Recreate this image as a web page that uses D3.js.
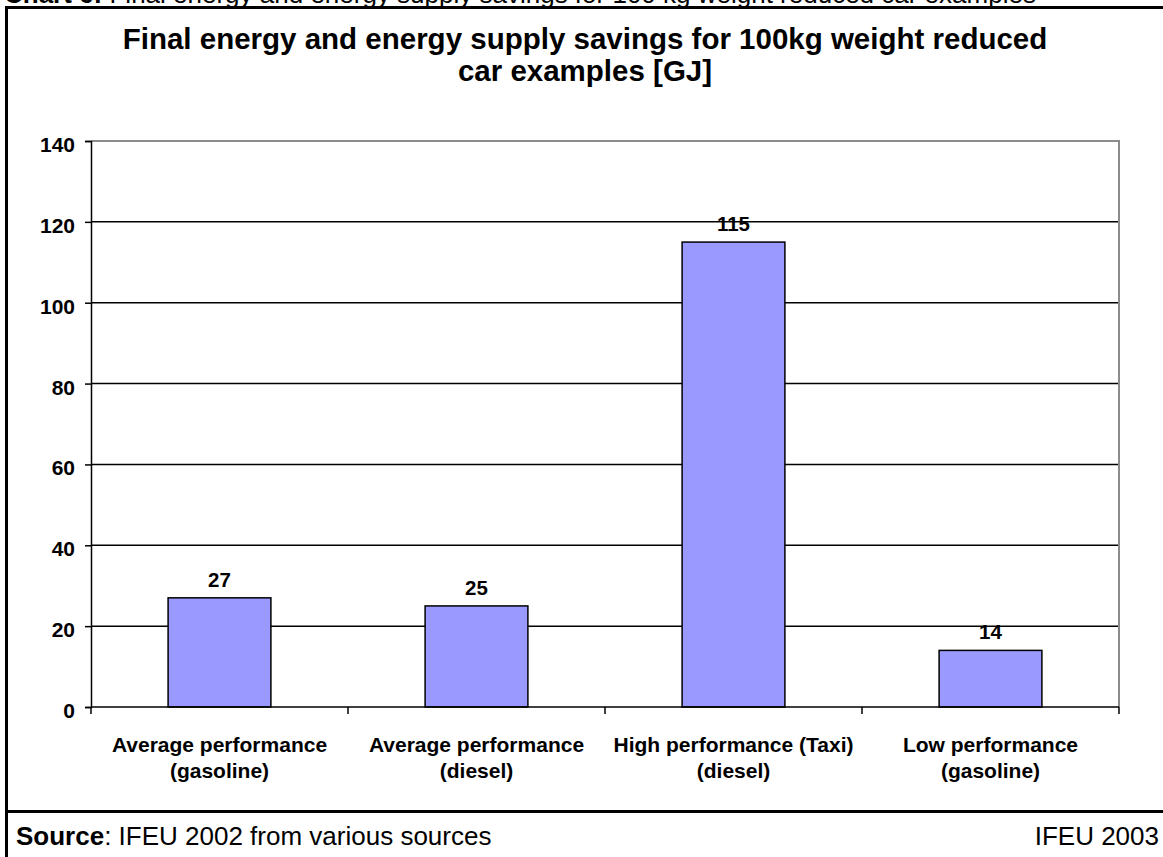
<!DOCTYPE html>
<html>
<head>
<meta charset="utf-8">
<script src="https://cdn.jsdelivr.net/npm/d3@7/dist/d3.min.js"></script>
<style>
  html, body { margin: 0; padding: 0; background: #fff; }
  svg { display: block; font-family: Arial, "Liberation Sans", sans-serif; }
</style>
</head>
<body>
<svg id="chart" width="1163" height="857"></svg>
<script>
// Savings per 100 kg weight reduction, GJ
const categories = [
  ["Average performance", "(gasoline)"],
  ["Average performance", "(diesel)"],
  ["High performance (Taxi)", "(diesel)"],
  ["Low performance", "(gasoline)"]
];
const savings = [27, 25, 115, 14];
const yTicks = [0, 20, 40, 60, 80, 100, 120, 140];

const svg = d3.select("#chart");
const W = 1163, H = 857;
const plot = { left: 91, right: 1119, top: 141, bottom: 707 };
const labelSize = 21;

// Caption above the frame (partly cut by the page top)
const cap = svg.append("text").attr("x", 4).attr("y", 3)
  .attr("font-size", 26).attr("fill", "#000");
cap.append("tspan").attr("font-weight", "bold").text("Chart 6:");
cap.append("tspan").text(" Final energy and energy supply savings for 100 kg weight reduced car examples");

// Outer frame
svg.append("line").attr("x1", 6).attr("x2", W + 5).attr("y1", 7.5).attr("y2", 7.5)
  .attr("stroke", "#000").attr("stroke-width", 3);
svg.append("line").attr("x1", 6.5).attr("x2", 6.5).attr("y1", 6).attr("y2", H)
  .attr("stroke", "#000").attr("stroke-width", 3);
svg.append("line").attr("x1", 6).attr("x2", W + 5).attr("y1", 811.5).attr("y2", 811.5)
  .attr("stroke", "#000").attr("stroke-width", 3);

// Title
const title = svg.append("text").attr("text-anchor", "middle")
  .attr("font-size", 29.5).attr("font-weight", "bold").attr("fill", "#000");
title.append("tspan").attr("x", 585).attr("y", 49)
  .text("Final energy and energy supply savings for 100kg weight reduced");
title.append("tspan").attr("x", 585).attr("y", 81).text("car examples [GJ]");

// Scales
const x = d3.scaleBand().domain(d3.range(categories.length))
  .range([plot.left, plot.right]).padding(0);
const y = d3.scaleLinear().domain([0, 140]).range([plot.bottom, plot.top]);
const barW = x.bandwidth() * 0.4;

// Gridlines
svg.append("g").selectAll("line").data(yTicks.filter(t => t > 0)).join("line")
  .attr("x1", plot.left).attr("x2", plot.right)
  .attr("y1", d => y(d)).attr("y2", d => y(d))
  .attr("stroke", d => d === 140 ? "#8c8c8c" : "#000")
  .attr("stroke-width", d => d === 140 ? 2 : 1.5);

// Right border of plot area
svg.append("line").attr("x1", plot.right).attr("x2", plot.right)
  .attr("y1", plot.top - 1).attr("y2", plot.bottom)
  .attr("stroke", "#8c8c8c").attr("stroke-width", 2);

// Bars
svg.append("g").selectAll("rect").data(savings).join("rect")
  .attr("x", (d, i) => x(i) + (x.bandwidth() - barW) / 2)
  .attr("width", barW)
  .attr("y", d => y(d))
  .attr("height", d => y(0) - y(d))
  .attr("fill", "#9999ff").attr("stroke", "#000").attr("stroke-width", 1.5);

// Value labels
svg.append("g").selectAll("text").data(savings).join("text")
  .attr("x", (d, i) => x(i) + x.bandwidth() / 2)
  .attr("y", d => y(d) - 11)
  .attr("text-anchor", "middle").attr("font-size", labelSize - 0.5).attr("font-weight", "bold")
  .text(d => d);

// Y axis
const yAxis = svg.append("g").attr("transform", `translate(${plot.left},0)`)
  .call(d3.axisLeft(y).tickValues(yTicks).tickSize(6).tickPadding(10).tickFormat(d3.format("d")));
yAxis.select(".domain").attr("stroke", "#000").attr("stroke-width", 1.5);
yAxis.selectAll(".tick line").attr("stroke", "#000").attr("stroke-width", 1.5);
yAxis.selectAll(".tick text").attr("font-size", labelSize).attr("font-weight", "bold")
  .attr("dy", "0.5em")
  .attr("font-family", "Arial, 'Liberation Sans', sans-serif").attr("fill", "#000");

// X axis
const xEdges = d3.range(categories.length + 1).map(i => plot.left + i * x.bandwidth());
svg.append("line").attr("x1", plot.left).attr("x2", plot.right)
  .attr("y1", plot.bottom).attr("y2", plot.bottom)
  .attr("stroke", "#000").attr("stroke-width", 1.5);
svg.append("g").selectAll("line").data(xEdges).join("line")
  .attr("x1", d => d).attr("x2", d => d)
  .attr("y1", plot.bottom).attr("y2", plot.bottom + 7)
  .attr("stroke", "#000").attr("stroke-width", 1.5);

const xl = svg.append("g").selectAll("text").data(categories).join("text")
  .attr("text-anchor", "middle").attr("font-size", labelSize).attr("font-weight", "bold");
xl.each(function (d, i) {
  const t = d3.select(this);
  const cx = x(i) + x.bandwidth() / 2;
  t.append("tspan").attr("x", cx).attr("y", 752).text(d[0]);
  t.append("tspan").attr("x", cx).attr("y", 778).text(d[1]);
});

// Source line
const src = svg.append("text").attr("x", 16).attr("y", 845).attr("font-size", 26);
src.append("tspan").attr("font-weight", "bold").text("Source");
src.append("tspan").text(": IFEU 2002 from various sources");
svg.append("text").attr("x", 1159).attr("y", 845).attr("text-anchor", "end")
  .attr("font-size", 26).text("IFEU 2003");
</script>
</body>
</html>
